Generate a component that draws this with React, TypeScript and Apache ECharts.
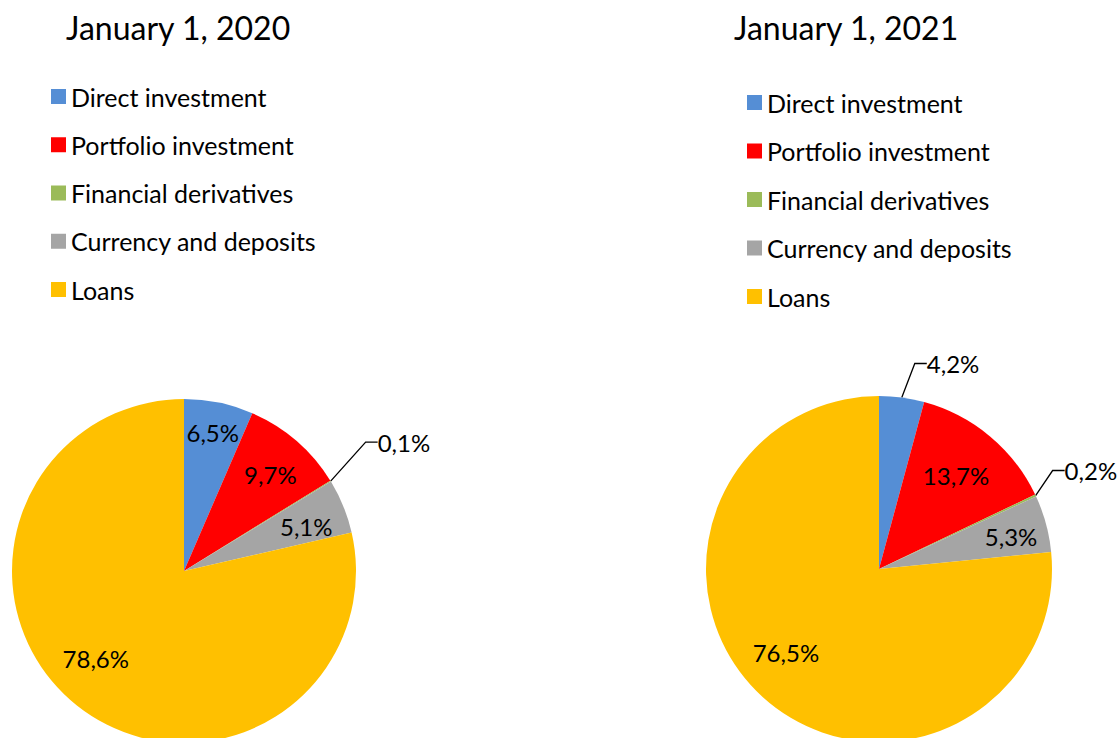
import React, { useEffect, useRef } from 'react';
import * as echarts from 'echarts';

const categories = [
  'Direct investment',
  'Portfolio investment',
  'Financial derivatives',
  'Currency and deposits',
  'Loans',
];
const colors = ['#558ED5', '#FF0000', '#9BBB59', '#A5A5A5', '#FFC000'];
const titles = ['January 1, 2020', 'January 1, 2021'];
const values2020 = [6.5, 9.7, 0.1, 5.1, 78.6];
const values2021 = [4.2, 13.7, 0.2, 5.3, 76.5];
const outside2020 = [false, false, true, false, false];
const outside2021 = [true, false, true, false, false];

// label placement tweaks (px): outer labels relative to slice edge midpoint,
// inner labels relative to their default spot
const outerOffsets2020: (number[] | null)[] = [null, null, [47, -39], null, null];
const outerOffsets2021: (number[] | null)[] = [[25, -34], null, [29, -25], null, null];
const innerNudge2020 = [[2, -9], [0, 3], [0, 0], [0, 5], [-6, -16]];
const innerNudge2021 = [[0, 0], [-8, 8], [0, 0], [4, 2], [-4, -15]];

const FONT = 'Lato';

const fmt = (p: any) => Number(p.value).toFixed(1).replace('.', ',') + '%';

function pieSeries(
  values: number[],
  outside: boolean[],
  outerOffsets: (number[] | null)[],
  innerNudge: number[][],
  center: number[],
  radius: number
) {
  const base = values.map((v, i) => ({ name: categories[i], value: v }));
  const total = values.reduce((a, b) => a + b, 0);
  const midAngle = (i: number) => {
    const before = values.slice(0, i).reduce((a, b) => a + b, 0);
    return ((before + values[i] / 2) / total) * Math.PI * 2;
  };
  return [
    {
      type: 'pie',
      center,
      radius,
      startAngle: 90,
      clockwise: true,
      avoidLabelOverlap: false,
      silent: true,
      itemStyle: { borderWidth: 0 },
      label: {
        show: true,
        position: 'outside',
        formatter: fmt,
        fontFamily: FONT,
        fontSize: 24,
        color: '#000',
      },
      labelLine: {
        show: true,
        length: 30,
        length2: 12,
        lineStyle: { color: '#000', width: 1.3 },
      },
      labelLayout: (params: any) => {
        const off = outerOffsets[params.dataIndex];
        if (!off) return {};
        const a = midAngle(params.dataIndex);
        const ex = center[0] + radius * Math.sin(a);
        const ey = center[1] - radius * Math.cos(a);
        return { x: ex + off[0], y: ey + off[1] };
      },
      data: base.map((d, i) => ({
        ...d,
        itemStyle: { color: colors[i] },
        label: { show: outside[i] },
        labelLine: { show: outside[i] },
      })),
    },
    {
      type: 'pie',
      center,
      radius: radius * 1.5,
      startAngle: 90,
      clockwise: true,
      avoidLabelOverlap: false,
      silent: true,
      legendHoverLink: false,
      itemStyle: { color: 'rgba(0,0,0,0)', borderWidth: 0 },
      label: {
        show: true,
        position: 'inside',
        formatter: fmt,
        fontFamily: FONT,
        fontSize: 24,
        color: '#000',
      },
      labelLine: { show: false },
      labelLayout: (params: any) => {
        const n = innerNudge[params.dataIndex] || [0, 0];
        const r = params.labelRect;
        return { x: r.x + r.width / 2 + n[0], y: r.y + r.height / 2 + n[1] };
      },
      data: base.map((d, i) => ({
        ...d,
        itemStyle: { color: 'rgba(0,0,0,0)' },
        label: { show: !outside[i] },
      })),
    },
  ];
}

export default function App() {
  const ref = useRef<HTMLDivElement>(null);
  useEffect(() => {
    if (!ref.current) return;
    const chart = echarts.init(ref.current, undefined, { renderer: 'svg' });
    const legendBase = {
      orient: 'vertical',
      itemWidth: 15,
      itemHeight: 15,
      icon: 'rect',
      selectedMode: false,
      padding: 0,
      textStyle: { fontFamily: FONT, fontSize: 25, color: '#000' },
      data: categories,
    };
    const titleBase = {
      padding: 0,
      textStyle: { fontFamily: FONT, fontSize: 32, fontWeight: 'normal', color: '#000' },
    };
    chart.setOption({
      animation: false,
      backgroundColor: '#fff',
      title: [
        { ...titleBase, text: titles[0], left: 66, top: 11 },
        { ...titleBase, text: titles[1], left: 734, top: 11 },
      ],
      legend: [
        { ...legendBase, left: 51, top: 84, itemGap: 23.25 },
        { ...legendBase, left: 747, top: 90, itemGap: 23.5 },
      ],
      series: [
        ...pieSeries(values2020, outside2020, outerOffsets2020, innerNudge2020, [184, 571], 172),
        ...pieSeries(values2021, outside2021, outerOffsets2021, innerNudge2021, [879, 569], 173),
      ],
    });
    return () => chart.dispose();
  }, []);
  return (
    <div
      ref={ref}
      style={{ position: 'fixed', left: 0, top: 0, width: 1119, height: 738 }}
    />
  );
}
